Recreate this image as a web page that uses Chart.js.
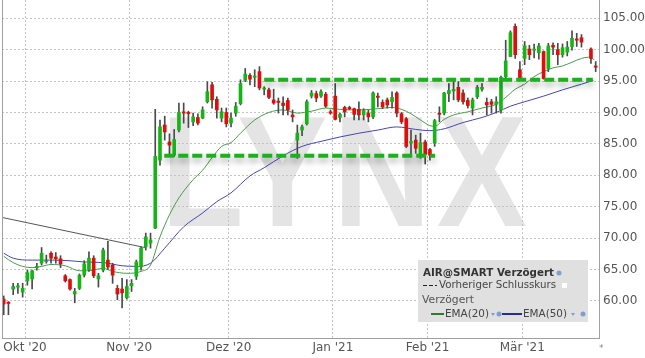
<!DOCTYPE html>
<html>
<head>
<meta charset="utf-8">
<script src="https://cdn.jsdelivr.net/npm/chart.js@4.4.0/dist/chart.umd.min.js"></script>
<style>
  html, body { margin: 0; padding: 0; background: #fff; }
  #wrap { width: 645px; height: 358px; position: relative; }
</style>
</head>
<body>
<div id="wrap"><canvas id="chart"></canvas></div>
<script>
// Kerzen (Index = Handelstag), null = Lücke
const opens  = [60.3,59.8,61.9,62.2,61.4,63.2,63.5,65.3,66.0,66.25,67.6,67.0,66.7,64.0,63.4,61.1,62.0,64.1,65.0,66.8,63.5,64.9,66.5,65.7,62.0,61.9,60.5,62.4,63.9,65.4,68.6,69.2,71.6,82.4,88.0,85.3,83.2,87.2,90.1,90.0,88.5,89.2,89.1,91.7,94.4,92.1,89.1,90.0,88.3,89.9,91.4,95.1,95.9,95.6,96.5,93.7,93.6,92.0,91.8,91.5,91.9,89.6,85.6,87.2,88.2,92.6,93.0,92.6,92.9,90.1,92.6,89.2,90.8,90.8,90.6,90.5,89.6,89.9,89.3,92.6,91.6,92.0,91.7,93.1,89.8,89.0,85.1,85.6,83.1,85.3,84.1,85.1,89.9,89.9,93.0,93.4,94.0,93.1,91.9,90.7,92.5,93.7,91.6,91.7,91.3,90.4,95.7,98.9,103.7,96.8,98.6,100.1,99.9,99.5,99.7,97.0,100.7,100.0,99.2,99.6,100.5,101.7,101.9,null,100.1,97.4];
const highs  = [60.8,59.9,62.8,62.8,62.8,64.9,64.9,66.0,68.5,67.3,67.8,67.7,67.2,64.2,63.5,62.0,64.3,66.4,67.8,67.2,64.4,68.4,69.5,66.0,62.5,63.6,63.4,63.4,66.5,68.6,70.8,70.8,90.5,88.8,89.4,86.6,87.3,91.5,91.5,90.2,89.9,89.8,90.9,94.9,94.8,92.5,90.7,90.7,89.9,91.6,95.2,97.0,96.2,96.8,97.3,94.1,93.9,93.7,92.3,92.5,92.3,90.4,88.0,88.0,92.0,93.5,93.4,93.6,93.2,90.4,94.6,89.9,91.0,91.0,90.7,91.7,90.6,90.4,93.3,93.1,92.0,92.3,93.3,93.3,90.0,89.2,87.2,86.4,86.7,85.6,84.3,88.9,90.9,93.2,94.6,95.2,94.9,93.6,92.3,92.3,94.3,94.6,92.3,92.1,92.5,95.8,101.5,103.0,104.1,98.1,101.3,100.7,100.9,101.0,99.8,101.0,101.1,101.0,100.9,101.3,103.0,102.6,102.4,null,100.3,98.1];
const lows   = [57.8,57.8,61.0,61.2,60.6,62.5,61.9,64.9,65.7,66.0,66.0,66.0,65.3,63.0,61.7,59.7,61.8,63.8,64.7,63.7,62.2,64.6,65.0,62.8,60.2,58.9,60.3,61.5,63.4,64.9,68.1,68.4,71.5,81.6,85.6,83.2,83.0,86.9,88.3,87.6,87.9,88.0,89.0,91.5,90.7,89.1,88.5,87.7,87.7,89.4,91.2,94.9,94.4,94.1,93.6,92.8,92.2,91.3,89.9,89.6,89.6,88.5,82.7,86.3,88.0,92.3,91.7,92.4,90.8,89.7,88.8,88.5,89.3,90.4,88.8,88.8,88.8,88.5,89.0,90.9,90.6,90.7,90.7,89.3,88.2,84.4,83.0,83.5,82.7,81.8,82.4,84.6,88.5,89.6,91.7,92.0,91.7,91.3,90.7,89.6,92.2,93.4,89.6,89.9,89.9,89.9,95.4,98.9,98.6,95.3,97.6,98.4,98.7,98.5,95.3,96.5,99.2,97.6,98.8,99.0,99.9,100.5,100.4,null,97.8,96.5];
const closes = [59.5,59.6,62.3,62.4,62.0,64.5,64.8,65.5,67.6,66.35,66.8,66.7,65.9,63.2,61.9,61.5,64.1,65.9,66.8,64.0,64.0,68.1,65.4,64.1,61.1,61.3,62.3,62.8,66.2,68.4,70.2,69.7,83.0,87.7,86.9,84.8,85.7,90.0,89.9,89.8,89.3,88.3,90.4,93.3,92.0,90.4,90.1,88.2,89.1,91.0,94.6,96.1,95.3,95.8,93.9,93.9,92.4,91.5,91.6,91.1,90.4,89.3,86.7,87.7,91.7,93.1,92.3,93.3,91.0,89.9,88.9,89.7,90.1,90.6,89.7,89.6,90.3,89.3,93.1,92.4,90.9,91.2,92.4,89.9,88.5,84.6,85.4,84.3,85.2,83.3,83.2,88.7,89.7,93.1,93.5,93.7,92.0,91.7,91.1,92.0,94.0,94.0,91.2,91.3,91.7,95.6,98.2,102.7,99.2,95.5,100.6,99.2,100.1,100.6,95.4,100.6,100.4,99.2,100.3,100.4,101.8,101.5,101.2,null,98.6,97.2];

// EMA-Linien
const ema20Idx = [0,2,4,6,8,10,13,16,18,21,23,26,29,31,33,35,37,40,42,44,46,48,50,53,56,59,62,65,68,71,75,79,82,84,86,88,90,91,93,95,98,101,104,106,108,110,112,114,116,118,120,122,123.5,124.7];
const ema20 = [67.1,66.1,65.5,65.3,65.5,65.8,65.6,64.8,64.8,65.2,64.7,64.4,64.7,65.7,70.2,73.7,76.4,79.3,80.8,82.8,84.6,85.2,86.7,88.8,90.0,90.4,89.9,90.2,90.7,90.5,90.4,90.6,90.8,90.5,89.8,88.8,87.9,87.8,88.9,89.6,90.1,90.7,91.3,92.4,93.7,94.5,95.7,96.5,97.1,97.4,98.0,98.6,98.8,98.4];
const ema50Idx = [0,2,6,10,14,17,21,25,28,31,34,38,42,45,48,52,55,59,63,67,71,75,79,83,87,90,93,97,101,104,107,110,114,118,122,124.5];
const ema50 = [67.6,66.8,66.5,66.5,66.4,66.2,66.1,65.6,65.5,66.0,68.4,71.8,74.0,75.8,77.2,79.9,81.2,83.1,84.6,85.4,86.1,86.7,87.2,87.7,87.3,87.1,87.4,88.4,89.2,90.0,91.0,91.7,92.6,93.6,94.5,95.1];

// Trendlinie und Unterstützung/Widerstand
const trendIdx = [-0.4, 29.8];
const trendVal = [73.3, 68.5];
const upperIdx = [55.0, 124.4];
const upperVal = [95.2, 95.2];
const lowerIdx = [33.9, 91.1];
const lowerVal = [83.1, 83.1];

const monthPos = [4.5, 26.5, 47.5, 69.5, 89.5, 109.5];
const monthLabels = ["Okt '20", "Nov '20", "Dez '20", "Jan '21", "Feb '21", "Mär '21"];
const yTicks = [60, 65, 70, 75, 80, 85, 90, 95, 100, 105];

const GREEN = '#16b516', RED = '#e00d0d';

const pts = (xs, ys) => xs.map((x, i) => ({ x: x, y: ys[i] }));

const candles = opens.map((o, i) => o == null ? null : { i, o, h: highs[i], l: lows[i], c: closes[i] }).filter(Boolean);
const bodies = candles.map(k => ({ x: k.i, y: [k.o, k.c] }));
const wicks = candles.map(k => ({ x: k.i, y: [k.l, k.h] }));
const bodyColors = candles.map(k => k.c >= k.o ? GREEN : RED);

// Wasserzeichen, Rahmen, Legende
const decor = {
    id: 'decor',
    beforeDraw(chart) {
        const ctx = chart.ctx;
        ctx.save();
        ctx.fillStyle = '#e4e4e4';
        ctx.font = 'bold 158px "Liberation Sans Narrow", "Liberation Sans"';
        ctx.letterSpacing = '7px';
        ctx.textBaseline = 'alphabetic';
        ctx.fillText('LYNX', 161, 226, 372);
        ctx.restore();
    },
    beforeDatasetDraw(chart, args) {
        if (chart.data.datasets[args.index].shadow) {
            const ctx = chart.ctx;
            ctx.save();
            ctx.shadowColor = 'rgba(0,0,0,0.35)';
            ctx.shadowBlur = 6;
            ctx.shadowOffsetY = 4;
        }
    },
    afterDatasetDraw(chart, args) {
        if (chart.data.datasets[args.index].shadow) chart.ctx.restore();
    },
    afterDraw(chart) {
        const ctx = chart.ctx;
        const a = chart.chartArea;
        ctx.save();
        ctx.strokeStyle = '#a0a0a0';
        ctx.lineWidth = 1;
        ctx.beginPath();
        ctx.moveTo(a.left + 0.5, a.top);
        ctx.lineTo(a.left + 0.5, a.bottom);
        ctx.stroke();

        // Legende
        const bx = 418, by = 260;
        ctx.fillStyle = '#e0e0e0';
        ctx.fillRect(bx, by, 170, 62);
        ctx.textBaseline = 'middle';
        ctx.fillStyle = '#333';
        ctx.font = 'bold 11px "DejaVu Sans"';
        ctx.fillText('AIR@SMART Verzögert', 423, 273, 131);
        ctx.fillStyle = '#7f9fcf';
        ctx.beginPath(); ctx.arc(559, 273, 2.5, 0, Math.PI * 2); ctx.fill();

        ctx.strokeStyle = '#222';
        ctx.setLineDash([4, 2]);
        ctx.beginPath(); ctx.moveTo(423, 285.5); ctx.lineTo(437, 285.5); ctx.stroke();
        ctx.setLineDash([]);
        ctx.fillStyle = '#444';
        ctx.font = '11px "DejaVu Sans"';
        ctx.fillText('Vorheriger Schlusskurs', 439, 285, 117);
        ctx.fillStyle = '#fff';
        ctx.fillRect(562, 283, 5, 5);

        ctx.fillStyle = '#555';
        ctx.fillText('Verzögert', 422, 300, 52);

        ctx.lineWidth = 2;
        ctx.strokeStyle = '#2e7d2e';
        ctx.beginPath(); ctx.moveTo(431, 314); ctx.lineTo(444, 314); ctx.stroke();
        ctx.fillStyle = '#444';
        ctx.fillText('EMA(20)', 445, 314, 44);
        ctx.strokeStyle = '#2a2aa0';
        ctx.beginPath(); ctx.moveTo(502, 314); ctx.lineTo(522, 314); ctx.stroke();
        ctx.fillText('EMA(50)', 523, 314, 44);
        ctx.fillStyle = '#7f9fcf';
        [[493, 314], [573, 314]].forEach(([x, y]) => {
            ctx.beginPath(); ctx.moveTo(x - 2, y - 1); ctx.lineTo(x + 2, y - 1); ctx.lineTo(x, y + 2); ctx.fill();
        });
        [[499, 314], [583, 314]].forEach(([x, y]) => {
            ctx.beginPath(); ctx.arc(x, y, 2.5, 0, Math.PI * 2); ctx.fill();
        });

        ctx.fillStyle = '#888';
        ctx.font = '9px "DejaVu Sans"';
        ctx.fillText('*', 599, 349);
        ctx.restore();
    }
};

Chart.defaults.font.family = '"DejaVu Sans", Verdana, sans-serif';
Chart.defaults.font.size = 12;
Chart.defaults.color = '#555';

new Chart(document.getElementById('chart'), {
    type: 'bar',
    data: {
        datasets: [
            { type: 'line', data: pts(upperIdx, upperVal), borderColor: '#1cb01c', borderWidth: 4, borderDash: [10, 4], pointRadius: 0, shadow: true, order: 0 },
            { type: 'line', data: pts(lowerIdx, lowerVal), borderColor: '#1cb01c', borderWidth: 4, borderDash: [10, 4], pointRadius: 0, shadow: true, order: 0 },
            { type: 'bar', data: bodies, backgroundColor: bodyColors, barThickness: 3, grouped: false, order: 1 },
            { type: 'bar', data: wicks, backgroundColor: '#4a4a4a', barThickness: 1, grouped: false, order: 2 },
            { type: 'line', data: pts(trendIdx, trendVal), borderColor: '#555', borderWidth: 1, pointRadius: 0, order: 3 },
            { type: 'line', data: pts(ema20Idx, ema20), borderColor: '#4c9a4c', borderWidth: 1, pointRadius: 0, cubicInterpolationMode: 'monotone', order: 4 },
            { type: 'line', data: pts(ema50Idx, ema50), borderColor: '#4646b4', borderWidth: 1, pointRadius: 0, cubicInterpolationMode: 'monotone', order: 4 }
        ]
    },
    options: {
        responsive: true,
        maintainAspectRatio: false,
        animation: false,
        layout: { padding: { left: 2, top: 0, right: 0, bottom: 0 } },
        plugins: { legend: { display: false }, tooltip: { enabled: false } },
        scales: {
            x: {
                type: 'linear', min: -0.36, max: 125.7, offset: false,
                afterBuildTicks: axis => { axis.ticks = monthPos.map(v => ({ value: v })); },
                afterFit: s => { s.height = 20; s.paddingLeft = 0; s.paddingRight = 0; },
                ticks: { callback: (v, i) => monthLabels[i], maxRotation: 0, autoSkip: false, padding: 3 },
                grid: { color: '#c4c4c4', drawTicks: false, offset: false },
                border: { color: '#a0a0a0', dash: [2, 2] }
            },
            y: {
                position: 'right', min: 54.1, max: 107.9,
                afterBuildTicks: axis => { axis.ticks = yTicks.map(v => ({ value: v })); },
                afterFit: s => { s.width = 46; s.paddingTop = 0; s.paddingBottom = 0; },
                ticks: { callback: v => v.toFixed(2), padding: 4 },
                grid: { color: '#c4c4c4', drawTicks: false },
                border: { color: '#a0a0a0', dash: [2, 2] }
            }
        }
    },
    plugins: [decor]
});
</script>
</body>
</html>
